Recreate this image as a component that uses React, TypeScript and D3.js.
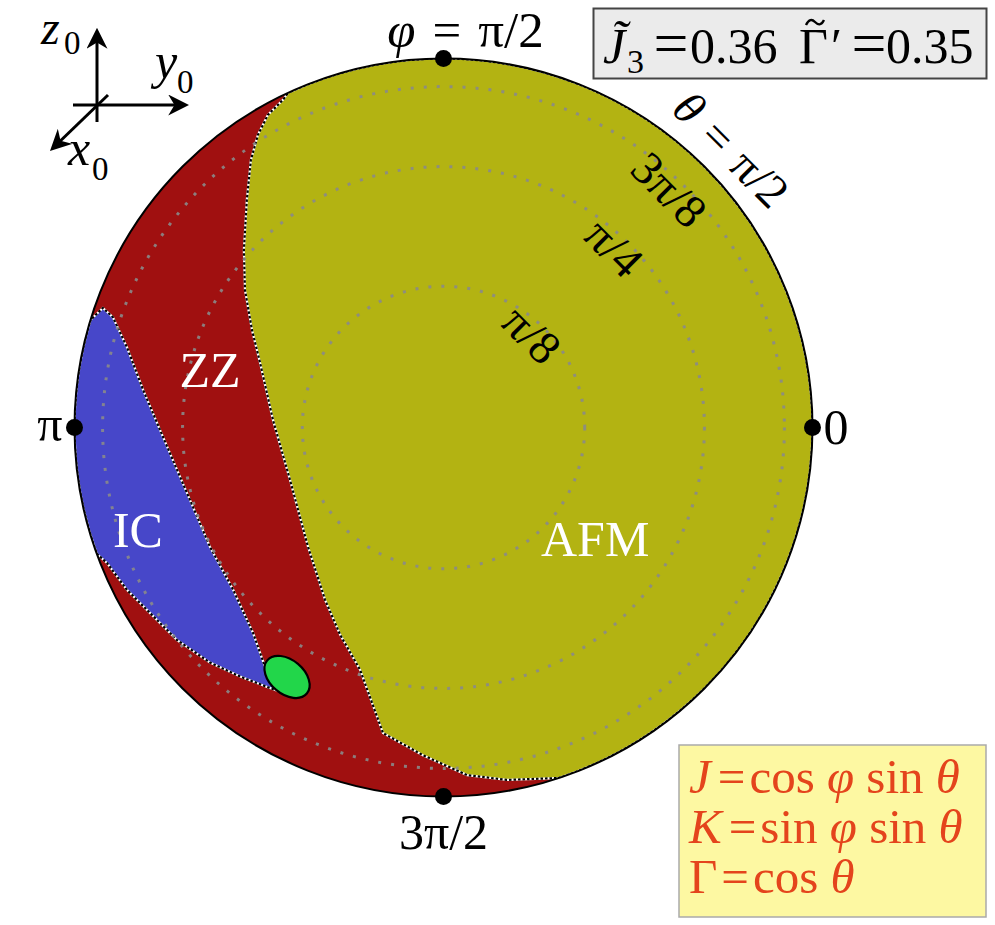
import React from "react";
import * as d3 from "d3";

// ---- layout ----
const W = 995;
const H = 925;
const CX = 443.5;
const CY = 427.5;
const R = 369;

// ---- data (J, K plane; Γ = cos θ ≥ 0 hemisphere, orthographic) ----
// θ rings drawn as dotted circles (radius ∝ sin θ)
const thetaRings = [Math.PI / 8, Math.PI / 4, (3 * Math.PI) / 8];
const thetaRingLabels = ["π/8", "π/4", "3π/8"];

// φ markers on the rim
const phiTicks = [0, Math.PI / 2, Math.PI, (3 * Math.PI) / 2];

// AFM phase: inner boundary from the upper rim down to the lower rim
const afmEdge: [number, number][] = [
  [-0.416, 0.915],
  [-0.435, 0.888],
  [-0.476, 0.847],
  [-0.503, 0.793],
  [-0.522, 0.725],
  [-0.533, 0.617],
  [-0.541, 0.481],
  [-0.538, 0.373],
  [-0.519, 0.264],
  [-0.497, 0.175],
  [-0.462, 0.02],
  [-0.416, -0.142],
  [-0.367, -0.324],
  [-0.321, -0.467],
  [-0.28, -0.562],
  [-0.226, -0.657],
  [-0.164, -0.828],
  [-0.056, -0.888],
  [0.064, -0.942],
  [0.172, -0.955],
  [0.308, -0.95],
];
// rim stretch (φ in degrees) closing the AFM region: from edge end to edge start
const afmRim: [number, number] = [-72, 114.4];

// IC phase: boundary from the lower rim, round the tip, up to the upper rim
const icEdge: [number, number][] = [
  [-0.94, -0.342],
  [-0.912, -0.367],
  [-0.858, -0.44],
  [-0.795, -0.503],
  [-0.722, -0.576],
  [-0.633, -0.637],
  [-0.551, -0.675],
  [-0.478, -0.703],
  [-0.457, -0.711],
  [-0.478, -0.665],
  [-0.516, -0.557],
  [-0.57, -0.44],
  [-0.633, -0.323],
  [-0.679, -0.215],
  [-0.722, -0.115],
  [-0.768, -0.007],
  [-0.814, 0.102],
  [-0.858, 0.218],
  [-0.896, 0.299],
  [-0.923, 0.324],
  [-0.956, 0.292],
];
const icRim: [number, number] = [163, 200];

// small green pocket next to the IC tip
const greenPocket = { J: -0.424, K: -0.676, a: 0.07, b: 0.046, tilt: -40 };

// phase names and where they sit
const phaseNames = ["ZZ", "IC", "AFM"];
const phaseNameAt: [number, number][] = [
  [-0.633, 0.11],
  [-0.828, -0.324],
  [0.411, -0.348],
];

// model parameters shown in the header box
const paramJ3 = "0.36";
const paramGammaPrime = "0.35";

// ---- colours ----
const ZZ_COLOR = "#a01010";
const AFM_COLOR = "#b3b312";
const IC_COLOR = "#4747c9";
const GREEN_COLOR = "#22d64a";
const SERIF = "'Liberation Serif', 'Times New Roman', serif";

const xS = d3.scaleLinear().domain([-1, 1]).range([CX - R, CX + R]);
const yS = d3.scaleLinear().domain([-1, 1]).range([CY + R, CY - R]);
const rS = d3.scaleLinear().domain([0, 1]).range([0, R]);

const rad = (deg: number) => (deg * Math.PI) / 180;

function phasePath(edge: [number, number][], rim: [number, number]) {
  const p = d3.path();
  d3.line<[number, number]>()
    .x((d) => xS(d[0]))
    .y((d) => yS(d[1]))
    .context(p as any)(edge);
  // screen angles run clockwise, φ runs counter-clockwise
  p.arc(CX, CY, R, rad(-rim[0]), rad(-rim[1]), true);
  p.closePath();
  return p.toString();
}

function Boundary({ d, fill }: { d: string; fill: string }) {
  return (
    <g>
      <path d={d} fill={fill} stroke="#fff" strokeWidth={2.2} />
      <path d={d} fill="none" stroke="#000" strokeWidth={2.2} strokeDasharray="2.5 2" />
    </g>
  );
}

function AxesGlyph() {
  return (
    <g stroke="#000" strokeWidth={3} fill="none">
      <defs>
        <marker id="arr" viewBox="0 0 10 10" refX="8" refY="5" markerWidth="7" markerHeight="7" orient="auto-start-reverse" markerUnits="strokeWidth">
          <path d="M0,0 L10,5 L0,10 L3,5 Z" fill="#000" stroke="none" />
        </marker>
      </defs>
      <line x1={97} y1={122} x2={97} y2={32} markerEnd="url(#arr)" />
      <line x1={73} y1={105} x2={185} y2={105} markerEnd="url(#arr)" />
      <line x1={108} y1={95} x2={53} y2={148} markerEnd="url(#arr)" />
      <g stroke="none" fill="#000" fontFamily={SERIF}>
        <text x={41} y={44} fontSize={48} fontStyle="italic">z</text>
        <text x={64} y={54} fontSize={33}>0</text>
        <text x={155} y={78} fontSize={50} fontStyle="italic">y</text>
        <text x={177} y={93} fontSize={33}>0</text>
        <text x={68} y={165} fontSize={50} fontStyle="italic">x</text>
        <text x={92} y={180} fontSize={33}>0</text>
      </g>
    </g>
  );
}

// one definition line: symbol, "=", then the right-hand side
function DefLine({ y, lhs, lhsItalic, rhs }: { y: number; lhs: string; lhsItalic: boolean; rhs: React.ReactNode }) {
  return (
    <text x={689} y={y}>
      <tspan fontStyle={lhsItalic ? "italic" : "normal"}>{lhs}</tspan>
      <tspan dx={lhsItalic ? 7 : 4}>=</tspan>
      <tspan dx={4}>{rhs}</tspan>
    </text>
  );
}

export default function App() {
  const afmD = phasePath(afmEdge, afmRim);
  const icD = phasePath(icEdge, icRim);
  const ringAngle = rad(46.5);
  const sp = "\u2004";

  return (
    <svg width={W} height={H} style={{ display: "block", position: "absolute", left: 0, top: 0 }} fontFamily={SERIF}>
      <rect width={W} height={H} fill="#fff" />
      <defs>
        <clipPath id="disk">
          <circle cx={CX} cy={CY} r={R} />
        </clipPath>
      </defs>

      {/* phase regions */}
      <g clipPath="url(#disk)">
        <circle cx={CX} cy={CY} r={R} fill={ZZ_COLOR} />
        <Boundary d={afmD} fill={AFM_COLOR} />
        <Boundary d={icD} fill={IC_COLOR} />
        <ellipse
          cx={xS(greenPocket.J)}
          cy={yS(greenPocket.K)}
          rx={rS(greenPocket.a)}
          ry={rS(greenPocket.b)}
          transform={`rotate(${-greenPocket.tilt} ${xS(greenPocket.J)} ${yS(greenPocket.K)})`}
          fill={GREEN_COLOR}
          stroke="#000"
          strokeWidth={2.2}
        />
        {/* dotted θ rings */}
        {thetaRings.map((t, i) => (
          <circle
            key={i}
            cx={CX}
            cy={CY}
            r={rS(Math.sin(t))}
            fill="none"
            stroke="#8a8a8a"
            strokeOpacity={0.9}
            strokeWidth={3}
            strokeDasharray="3 10"
          />
        ))}
      </g>
      <circle cx={CX} cy={CY} r={R} fill="none" stroke="#000" strokeWidth={2} />

      {/* phase names */}
      {phaseNames.map((n, i) => (
        <text key={n} x={xS(phaseNameAt[i][0])} y={yS(phaseNameAt[i][1])} fill="#fff" fontSize={50} textAnchor="middle">
          {n}
        </text>
      ))}

      {/* θ ring labels */}
      {thetaRings.map((t, i) => {
        const r = rS(Math.sin(t)) - 13;
        const x = CX + r * Math.cos(ringAngle);
        const y = CY - r * Math.sin(ringAngle);
        return (
          <text key={i} x={x} y={y} fontSize={47} textAnchor="middle" dominantBaseline="central" transform={`rotate(45 ${x} ${y})`}>
            {thetaRingLabels[i]}
          </text>
        );
      })}
      {(() => {
        const r = rS(1) + 31;
        const a = rad(44);
        const x = CX + r * Math.cos(a);
        const y = CY - r * Math.sin(a);
        return (
          <text x={x} y={y} fontSize={47} textAnchor="middle" dominantBaseline="central" transform={`rotate(45 ${x} ${y})`}>
            <tspan fontStyle="italic">θ</tspan>{sp}={sp}π/2
          </text>
        );
      })()}

      {/* φ markers */}
      {phiTicks.map((p, i) => (
        <circle key={i} cx={xS(Math.cos(p))} cy={yS(Math.sin(p))} r={8.5} fill="#000" />
      ))}
      <text x={xS(Math.cos(phiTicks[0])) + 11} y={444} fontSize={50}>0</text>
      <text x={xS(Math.cos(phiTicks[1])) + 22} y={47} fontSize={51} textAnchor="middle">
        <tspan fontStyle="italic">φ</tspan>{sp}={sp}π/2
      </text>
      <text x={xS(Math.cos(phiTicks[2])) - 12} y={441} fontSize={50} textAnchor="end">π</text>
      <text x={xS(Math.cos(phiTicks[3]))} y={849} fontSize={50} textAnchor="middle">3π/2</text>

      <AxesGlyph />

      {/* parameter box */}
      <rect x={593.5} y={8.5} width={393} height={70} fill="#ebebeb" stroke="#444" strokeWidth={2} />
      <g fontSize={50} fill="#000">
        <text x={603} y={63} fontStyle="italic">J̃</text>
        <text x={627} y={73} fontSize={34}>3</text>
        <text x={671} y={64} fontSize={62} textAnchor="middle">=</text>
        <text x={690} y={63}>{paramJ3}</text>
        <text x={799} y={63}>
          Γ<tspan dx={3}>′</tspan>
        </text>
        {/* tilde accent over Γ */}
        <path d="M806,25 C809,19 812,19 815,22 C818,25 821,26 824,20" fill="none" stroke="#000" strokeWidth={2.4} />
        <text x={869} y={64} fontSize={62} textAnchor="middle">=</text>
        <text x={886} y={63}>{paramGammaPrime}</text>
      </g>

      {/* definitions box */}
      <rect x={679} y={745} width={307} height={172} fill="#fdf8a2" stroke="#aaa" strokeWidth={1.5} />
      <g fill="#e4441c" fontSize={49}>
        <DefLine
          y={793}
          lhs="J"
          lhsItalic
          rhs={
            <>
              cos <tspan fontStyle="italic">φ</tspan> sin <tspan fontStyle="italic">θ</tspan>
            </>
          }
        />
        <DefLine
          y={843}
          lhs="K"
          lhsItalic
          rhs={
            <>
              sin <tspan fontStyle="italic">φ</tspan> sin <tspan fontStyle="italic">θ</tspan>
            </>
          }
        />
        <DefLine
          y={893}
          lhs="Γ"
          lhsItalic={false}
          rhs={
            <>
              cos <tspan fontStyle="italic">θ</tspan>
            </>
          }
        />
      </g>
    </svg>
  );
}
